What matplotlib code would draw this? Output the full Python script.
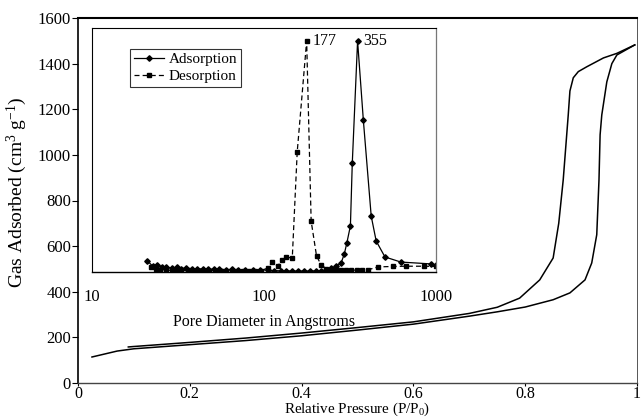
import matplotlib
matplotlib.use('Agg')
import matplotlib.pyplot as plt

plt.rcParams['font.family'] = ['Liberation Serif', 'DejaVu Serif']
plt.rcParams['mathtext.fontset'] = 'custom'
plt.rcParams['mathtext.rm'] = 'Liberation Serif'
plt.rcParams['mathtext.it'] = 'Liberation Serif:italic'

#=====================
#  Isotherm data (main plot)
#=====================
ads_p = [0.025, 0.07, 0.1, 0.2, 0.3, 0.4, 0.5, 0.6, 0.7, 0.75, 0.8, 0.85,
         0.88, 0.907, 0.919, 0.928, 0.932, 0.934, 0.937, 0.946, 0.955,
         0.964, 0.98, 0.996]
ads_v = [114, 140, 150, 168, 186, 207, 232, 258, 293, 312, 333, 365,
         395, 452, 526, 650, 890, 1088, 1175, 1320, 1400,
         1438, 1460, 1482]

des_p = [0.996, 0.964, 0.94, 0.91, 0.895, 0.886, 0.88, 0.877, 0.868, 0.86,
         0.85, 0.826, 0.79, 0.75, 0.7, 0.6, 0.5, 0.4, 0.3, 0.2, 0.1, 0.09]
des_v = [1482, 1445, 1425, 1386, 1365, 1338, 1280, 1175, 890, 700,
         548, 452, 372, 332, 305, 268, 243, 219, 197, 178, 160, 158]

#=====================
#  Pore size distribution (inset)
#=====================
psd_ads_d = [21, 22.5, 24, 25.5, 27, 29, 31, 33, 35, 38, 41, 44, 47, 51, 55,
             60, 65, 71, 78, 86, 95, 105, 115, 125, 135, 145, 157, 170, 185,
             200, 215, 230, 246, 263, 281, 293, 303, 318, 326, 350, 378, 420,
             449, 505, 625, 935, 1000]
psd_ads_v = [0.048, 0.026, 0.032, 0.022, 0.02, 0.018, 0.02, 0.015, 0.017,
             0.013, 0.015, 0.012, 0.013, 0.011, 0.012, 0.01, 0.011, 0.009,
             0.01, 0.008, 0.009, 0.008, 0.006, 0.005, 0.005, 0.004, 0.004,
             0.004, 0.004, 0.005, 0.006, 0.008, 0.017, 0.025, 0.04, 0.078,
             0.125, 0.2, 0.47, 1.0, 0.658, 0.242, 0.134, 0.065, 0.043, 0.035,
             0.03]

psd_des_d = [22, 23.5, 25, 27, 29, 31, 33, 36, 39, 42, 45, 48, 52, 56, 60, 65,
             70, 76, 82, 89, 96, 105, 112, 120, 128, 135, 146, 156, 177, 188,
             202, 215, 230, 245, 262, 280, 300, 320, 345, 370, 400, 460, 560,
             670, 850, 1000]
psd_des_v = [0.02, 0.012, 0.008, 0.01, 0.006, 0.008, 0.005, 0.007, 0.005,
             0.006, 0.005, 0.006, 0.005, 0.005, 0.004, 0.005, 0.004, 0.005,
             0.004, 0.005, 0.006, 0.017, 0.043, 0.026, 0.052, 0.065, 0.06,
             0.52, 1.0, 0.22, 0.07, 0.03, 0.015, 0.01, 0.008, 0.008, 0.008,
             0.008, 0.008, 0.008, 0.009, 0.022, 0.024, 0.025, 0.025, 0.024]

x_ticks = [0, 0.2, 0.4, 0.6, 0.8, 1]
x_ticklabels = ['0', '0.2', '0.4', '0.6', '0.8', '1']
y_ticks = [0, 200, 400, 600, 800, 1000, 1200, 1400, 1600]
inset_ticks = [10, 100, 1000]
peak_labels = [(177, '177'), (350, '355')]

fig = plt.figure(figsize=(6.42, 4.18), dpi=100)

# main axes
ax = fig.add_axes([78/642, 1 - 383/418, 559/642, 365/418])
ax.plot(ads_p, ads_v, color='black', lw=1.1)
ax.plot(des_p, des_v, color='black', lw=1.1)
ax.set_xlim(0, 1)
ax.set_ylim(0, 1600)
ax.set_xticks(x_ticks)
ax.set_xticklabels(x_ticklabels)
ax.set_yticks(y_ticks)
ax.tick_params(labelsize=12, direction='out', length=4, width=0.8, pad=1)
ax.tick_params(axis='x', labelsize=11.5, length=2, pad=0)
ax.set_xlabel('Relative Pressure (P/P$_0$)', fontsize=10.8, labelpad=-0.5)
ax.set_ylabel('Gas Adsorbed (cm$^3$ g$^{-1}$)', fontsize=14)
ax.yaxis.set_label_coords(-0.087, 0.523)
ax.spines['left'].set_linewidth(1.2)
ax.spines['top'].set_linewidth(1.5)
ax.spines['right'].set_linewidth(0.7)
ax.spines['right'].set_linestyle((0, (2, 1)))
ax.spines['right'].set_color('#555555')
ax.spines['bottom'].set_linewidth(1.0)
ax.spines['bottom'].set_linestyle((0, (3, 1)))
ax.spines['bottom'].set_color('#444444')

# inset
ins = fig.add_axes([92/642, 1 - 272/418, 344/642, 244/418])
ins.plot(psd_ads_d, psd_ads_v, color='black', lw=0.9, marker='D', ms=2.8)
ins.plot(psd_des_d, psd_des_v, color='black', lw=0.9, ls=(0, (4, 2.5)),
         marker='s', ms=3)
ins.set_xscale('log')
ins.set_xlim(10, 1000)
ins.set_ylim(0, 1.056)
ins.set_yticks([])
ins.set_xticks(inset_ticks)
ins.set_xticklabels([str(t) for t in inset_ticks])
ins.minorticks_off()
ins.tick_params(axis='x', labelsize=12, length=0, pad=12)
ins.set_xlabel('Pore Diameter in Angstroms', fontsize=11.5, labelpad=7)
ins.spines['bottom'].set_linewidth(1.0)
ins.spines['left'].set_linewidth(0.8)
ins.spines['left'].set_linestyle((0, (2, 1)))
ins.spines['top'].set_linewidth(0.8)
ins.spines['top'].set_linestyle((0, (2, 1)))
ins.spines['right'].set_linewidth(0.9)
ins.spines['right'].set_color('#777777')

for d, txt in peak_labels:
    ins.annotate(txt, (d, 1.0), xytext=(4, 0), textcoords='offset points',
                 fontsize=11.5, va='center', ha='left')

leg = ins.legend(['Adsorption', 'Desorption'], loc='upper left',
                 bbox_to_anchor=(0.11, 0.915), fontsize=11, frameon=True,
                 fancybox=False, edgecolor='black', handlelength=2.0,
                 handletextpad=0.3, borderpad=0.25, labelspacing=0.2,
                 borderaxespad=0)
leg.get_frame().set_linewidth(0.8)

fig.savefig('out.png', dpi=100)
